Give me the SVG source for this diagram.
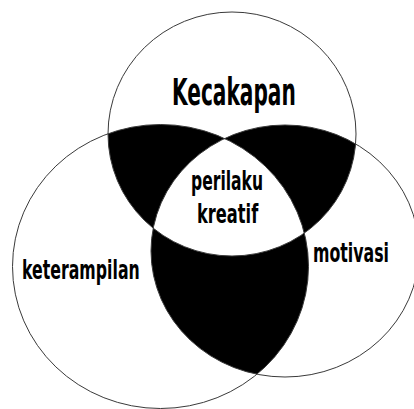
<svg xmlns="http://www.w3.org/2000/svg" width="414" height="409" viewBox="0 0 414 409">
  <style>
    .outline { fill: none; stroke: #3a3a3a; stroke-width: 1; }
    .lbl { font-family: "DejaVu Sans", "Liberation Sans", sans-serif; font-weight: bold; fill: #000; }
  </style>
  <defs>
    <ellipse id="eTop" cx="232" cy="134" rx="124" ry="122"/>
    <ellipse id="eLeft" cx="160.5" cy="266.5" rx="148" ry="142"/>
    <ellipse id="eRight" cx="285" cy="251" rx="134" ry="126"/>
    <clipPath id="cTop"><use href="#eTop"/></clipPath>
    <clipPath id="cLeft"><use href="#eLeft"/></clipPath>
    <clipPath id="cRight"><use href="#eRight"/></clipPath>
  </defs>
  <rect x="0" y="0" width="414" height="409" fill="#fff"/>

  <g id="overlaps">
    <g clip-path="url(#cTop)"><use href="#eLeft" fill="#000"/></g>
    <g clip-path="url(#cTop)"><use href="#eRight" fill="#000"/></g>
    <g clip-path="url(#cLeft)"><use href="#eRight" fill="#000"/></g>
    <g clip-path="url(#cTop)"><g clip-path="url(#cLeft)"><use href="#eRight" fill="#fff"/></g></g>
  </g>

  <g id="node-kecakapan">
    <use href="#eTop" class="outline"/>
    <text class="lbl" transform="translate(172,105) scale(0.56,1)" font-size="37" textLength="221" lengthAdjust="spacingAndGlyphs">Kecakapan</text>
  </g>
  <g id="node-keterampilan">
    <use href="#eLeft" class="outline"/>
    <text class="lbl" transform="translate(22,279) scale(0.58,1)" font-size="27" textLength="203" lengthAdjust="spacingAndGlyphs">keterampilan</text>
  </g>
  <g id="node-motivasi">
    <use href="#eRight" class="outline"/>
    <text class="lbl" transform="translate(313,262) scale(0.58,1)" font-size="27" textLength="131" lengthAdjust="spacingAndGlyphs">motivasi</text>
  </g>
  <g id="node-perilaku-kreatif">
    <text class="lbl" transform="translate(191,190) scale(0.6,1)" font-size="26" textLength="120" lengthAdjust="spacingAndGlyphs">perilaku</text>
    <text class="lbl" transform="translate(197,223) scale(0.6,1)" font-size="26" textLength="102" lengthAdjust="spacingAndGlyphs">kreatif</text>
  </g>
  <g id="connectors"/>
</svg>
